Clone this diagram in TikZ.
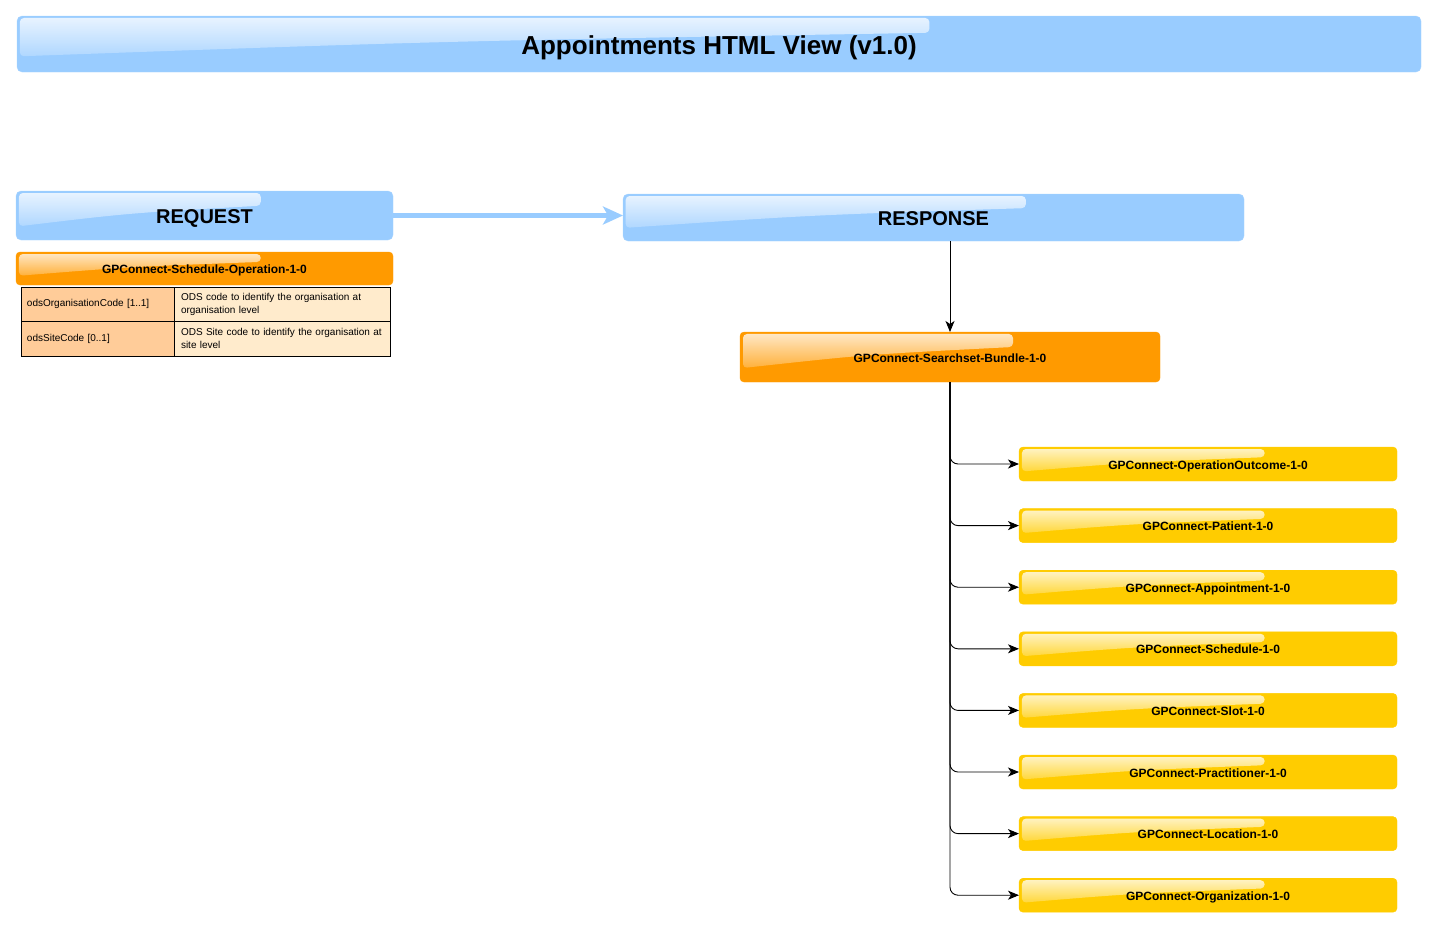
\documentclass[tikz,border=0pt]{standalone}
\usepackage{fontspec}
\setmainfont{Liberation Sans}
\usepackage{tikz}
\usetikzlibrary{arrows.meta, positioning, chains, calc, fadings}

\definecolor{glassblue}{HTML}{99CCFF}
\definecolor{bundleorange}{HTML}{FF9A00}
\definecolor{itemyellow}{HTML}{FFCC00}
\definecolor{keypeach}{HTML}{FFCC99}
\definecolor{desccream}{HTML}{FFEBCC}

\tikzstyle{glass} = [path picture={
    \fill[white, fill opacity=0.8, path fading=south, rounded corners=4pt]
        let \p1=(path picture bounding box.south west),
            \p2=(path picture bounding box.north east),
            \n1={\x2-\x1}, \n2={\y2-\y1} in
        ({\x1+3pt},{\y2-2pt}) -- ({\x1+0.65*\n1},{\y2-2pt})
        -- ({\x1+0.65*\n1},{\y2-0.3*\n2})
        .. controls ({\x1+0.3*\n1},{\y2-0.45*\n2}) .. ({\x1+3pt},{\y2-0.72*\n2}) -- cycle;
}]
\tikzstyle{arrow} = [line width=0.9pt, -{Stealth[length=11pt, width=9pt, inset=3pt]}]

\begin{document}
\begin{tikzpicture}[
    x=1pt, y=-1pt,
    node distance=27.6pt,
    every node/.style={inner sep=0pt, outer sep=0pt},
    header/.style={glass, draw=glassblue!85!white, fill=glassblue, rounded corners=5pt, text height=16pt, text depth=0pt, font=\fontsize{20}{24}\selectfont\bfseries},
    resource/.style={glass, draw=bundleorange, fill=bundleorange, rounded corners=4pt, text height=10pt, text depth=0pt, font=\fontsize{12}{14}\selectfont\bfseries},
    entry/.style={glass, draw=itemyellow, fill=itemyellow, rounded corners=4pt, minimum width=378pt, minimum height=34pt, text height=10pt, text depth=0pt, font=\fontsize{12}{14}\selectfont\bfseries},
    keycell/.style={draw=black, line width=0.8pt, fill=keypeach, minimum height=34.5pt, text width=141pt, inner xsep=6pt, align=left, font=\fontsize{10}{13}\selectfont},
    desccell/.style={draw=black, line width=0.8pt, fill=desccream, minimum height=34.5pt, text width=202pt, inner xsep=7pt, align=left, font=\fontsize{10}{13}\selectfont},
    bigarrow/.style={line width=5pt, glassblue, -{Stealth[length=20pt, width=18pt, inset=5pt]}}
]
\useasboundingbox (0,0) rectangle (1437,930);

% Title
\node (title) [header, minimum width=1404pt, minimum height=56pt, text height=20.6pt, font=\fontsize{26}{30}\selectfont\bfseries] at (719,44) {Appointments HTML View (v1.0)};

% Request side
\node (request) [header, minimum width=377pt, minimum height=49pt] at (204.5,215.5) {REQUEST};
\node (operation) [resource, minimum width=377pt, minimum height=33pt, below=12pt of request] {GPConnect-Schedule-Operation-1-0};
\node (orgkey) [keycell, anchor=north west] at (21,287) {odsOrganisationCode [1..1]};
\node (orgdesc) [desccell, right=0pt of orgkey] {ODS code to identify the organisation at\\organisation level};
\node (sitekey) [keycell, below=0pt of orgkey] {odsSiteCode [0..1]};
\node (sitedesc) [desccell, right=0pt of sitekey] {ODS Site code to identify the organisation at\\site level};

% Response side
\node (response) [header, minimum width=621pt, minimum height=47pt] at (933.5,217.5) {RESPONSE};
\node (bundle) [resource, minimum width=420pt, minimum height=50pt] at (950,357) {GPConnect-Searchset-Bundle-1-0};

% Bundle entries
\begin{scope}[start chain=going below]
\node (outcome) [entry, on chain] at (1208,464) {GPConnect-OperationOutcome-1-0};
\node (patient) [entry, on chain] {GPConnect-Patient-1-0};
\node (appointment) [entry, on chain] {GPConnect-Appointment-1-0};
\node (schedule) [entry, on chain] {GPConnect-Schedule-1-0};
\node (slot) [entry, on chain] {GPConnect-Slot-1-0};
\node (practitioner) [entry, on chain] {GPConnect-Practitioner-1-0};
\node (location) [entry, on chain] {GPConnect-Location-1-0};
\node (organization) [entry, on chain] {GPConnect-Organization-1-0};
\end{scope}

% Arrows
\draw [bigarrow] (request.east) -- (request.east -| response.west);
\draw [arrow] (bundle.north |- response.south) -- (bundle.north);
\draw [arrow, rounded corners=8pt] (bundle.south) |- (outcome.west);
\draw [arrow, rounded corners=8pt] (bundle.south) |- (patient.west);
\draw [arrow, rounded corners=8pt] (bundle.south) |- (appointment.west);
\draw [arrow, rounded corners=8pt] (bundle.south) |- (schedule.west);
\draw [arrow, rounded corners=8pt] (bundle.south) |- (slot.west);
\draw [arrow, rounded corners=8pt] (bundle.south) |- (practitioner.west);
\draw [arrow, rounded corners=8pt] (bundle.south) |- (location.west);
\draw [arrow, rounded corners=8pt] (bundle.south) |- (organization.west);

\end{tikzpicture}
\end{document}
